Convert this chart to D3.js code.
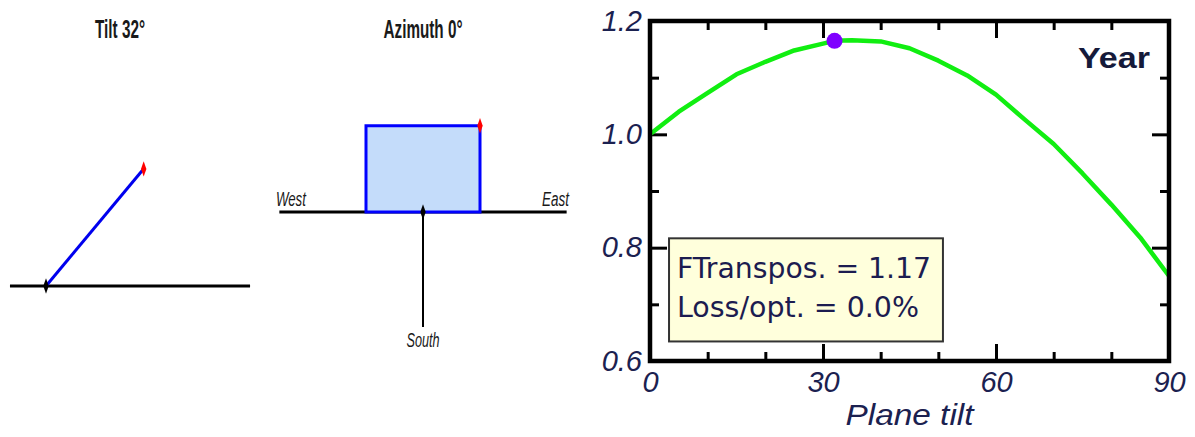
<!DOCTYPE html>
<html>
<head>
<meta charset="utf-8">
<script src="https://cdn.jsdelivr.net/npm/d3@7"></script>
<style>
  body { margin: 0; background: #fff; }
  svg { display: block; }
</style>
</head>
<body>
<svg id="chart" width="1195" height="437"></svg>
<script>
// plane tilt (deg) vs transposition factor
var tiltValues   = [0, 5, 10, 15, 20, 25, 30, 32, 35, 40, 45, 50, 55, 60, 65, 70, 75, 80, 85, 90];
var factorValues = [1.000, 1.040, 1.073, 1.106, 1.128, 1.148, 1.160, 1.165, 1.166, 1.164, 1.152, 1.130, 1.104, 1.070, 1.026, 0.983, 0.931, 0.876, 0.818, 0.750];
var optimum = [32, 1.165];

var xTickLabels = [0, 30, 60, 90];
var yTickLabels = [0.6, 0.8, 1.0, 1.2];
var xMinorTicks = [10, 20, 40, 50, 70, 80];
var yMinorTicks = [0.7, 0.9, 1.1];
var legendLines = ["FTranspos. = 1.17", "Loss/opt. = 0.0%"];

// orientation shown in the two small sketches
var planeTilt = 32;
var planeAzimuth = 0;
var compassLabels = ["West", "East", "South"];

var svg = d3.select("#chart");
var ink = "#1b2150";

//////////////////////////////////////////////
//          Tilt sketch (left)              //
//////////////////////////////////////////////
var tx = d3.scaleLinear().domain([0, 1]).range([46, 160]);
var ty = d3.scaleLinear().domain([0, 1]).range([286, 67]);

var narrow = "'Liberation Sans Narrow', 'Liberation Sans', sans-serif";

svg.append("text")
    .attr("x", 120).attr("y", 38)
    .attr("text-anchor", "middle")
    .attr("textLength", 50).attr("lengthAdjust", "spacingAndGlyphs")
    .style("font-family", narrow)
    .style("font-size", "25px")
    .style("font-weight", "bold")
    .style("fill", "#1a1a1a")
    .text("Tilt " + planeTilt + "°");

svg.append("line")
    .attr("x1", tx(-0.316)).attr("x2", tx(1.79))
    .attr("y1", ty(0)).attr("y2", ty(0))
    .attr("stroke", "#000").attr("stroke-width", 3);

var tEnd = [Math.cos(planeTilt * Math.PI / 180), Math.sin(planeTilt * Math.PI / 180)];
svg.append("line")
    .attr("x1", tx(0)).attr("y1", ty(0))
    .attr("x2", tx(tEnd[0])).attr("y2", ty(tEnd[1]))
    .attr("stroke", "#0000ee").attr("stroke-width", 3);

svg.append("path")
    .attr("d", d3.symbol(d3.symbolDiamond, 40))
    .attr("transform", "translate(" + tx(0) + "," + ty(0) + ") scale(0.8,1.3)")
    .attr("fill", "#000");
svg.append("path")
    .attr("d", d3.symbol(d3.symbolDiamond, 40))
    .attr("transform", "translate(" + (tx(tEnd[0]) + 1) + "," + (ty(tEnd[1]) - 1) + ") scale(0.8,1.3)")
    .attr("fill", "#ff0000");

//////////////////////////////////////////////
//          Azimuth sketch (middle)         //
//////////////////////////////////////////////
var ax = d3.scaleLinear().domain([-1, 1]).range([309, 537]);
var ay = d3.scaleLinear().domain([0, 1]).range([212, 327]);

svg.append("text")
    .attr("x", 423).attr("y", 38)
    .attr("text-anchor", "middle")
    .attr("textLength", 79).attr("lengthAdjust", "spacingAndGlyphs")
    .style("font-family", narrow)
    .style("font-size", "25px")
    .style("font-weight", "bold")
    .style("fill", "#1a1a1a")
    .text("Azimuth " + planeAzimuth + "°");

svg.append("line")
    .attr("x1", ax(-1.26)).attr("x2", ax(1.26))
    .attr("y1", ay(0)).attr("y2", ay(0))
    .attr("stroke", "#000").attr("stroke-width", 3);

svg.append("line")
    .attr("x1", ax(0)).attr("x2", ax(0))
    .attr("y1", ay(0)).attr("y2", ay(1))
    .attr("stroke", "#000").attr("stroke-width", 2);

// plane seen from above, rotated by azimuth around the south axis
svg.append("rect")
    .attr("x", ax(-0.5)).attr("y", ay(-0.75))
    .attr("width", ax(0.5) - ax(-0.5)).attr("height", ay(0) - ay(-0.75))
    .attr("transform", "rotate(" + (-planeAzimuth) + "," + ax(0) + "," + ay(0) + ")")
    .attr("fill", "#c4dcfa")
    .attr("stroke", "#0000ff").attr("stroke-width", 3);

svg.append("path")
    .attr("d", d3.symbol(d3.symbolDiamond, 40))
    .attr("transform", "translate(" + ax(0) + "," + ay(0) + ") scale(0.8,1.3)")
    .attr("fill", "#000");
svg.append("path")
    .attr("d", d3.symbol(d3.symbolDiamond, 40))
    .attr("transform", "translate(" + ax(0.5) + "," + ay(-0.75) + ") scale(0.8,1.3)")
    .attr("fill", "#ff0000");

svg.append("text")
    .attr("x", ax(-1.29)).attr("y", 206)
    .attr("textLength", 30).attr("lengthAdjust", "spacingAndGlyphs")
    .style("font-family", narrow).style("font-style", "italic")
    .style("font-size", "20px").style("fill", "#1a1a1a")
    .text(compassLabels[0]);
svg.append("text")
    .attr("x", ax(1.28)).attr("y", 206)
    .attr("text-anchor", "end")
    .attr("textLength", 27).attr("lengthAdjust", "spacingAndGlyphs")
    .style("font-family", narrow).style("font-style", "italic")
    .style("font-size", "20px").style("fill", "#1a1a1a")
    .text(compassLabels[1]);
svg.append("text")
    .attr("x", ax(0)).attr("y", 347)
    .attr("text-anchor", "middle")
    .attr("textLength", 33).attr("lengthAdjust", "spacingAndGlyphs")
    .style("font-family", narrow).style("font-style", "italic")
    .style("font-size", "20px").style("fill", "#1a1a1a")
    .text(compassLabels[2]);

//////////////////////////////////////////////
//          Transposition factor plot       //
//////////////////////////////////////////////
var pLeft = 650, pRight = 1169, pTop = 21, pBottom = 361;

var xScale = d3.scaleLinear().domain([0, 90]).range([pLeft, pRight]);
var yScale = d3.scaleLinear().domain([0.6, 1.2]).range([pBottom, pTop]);

var plot = svg.append("g");

// inward ticks on all four sides, majors longer
function tickSide(axisFn, scale, values, size, transform) {
    plot.append("g")
        .attr("transform", transform)
        .call(axisFn(scale).tickValues(values).tickSize(size).tickFormat(""))
        .call(function(g) {
            g.select(".domain").remove();
            g.selectAll("line").attr("stroke", "#000").attr("stroke-width", 3);
        });
}
tickSide(d3.axisBottom, xScale, [30, 60], -17, "translate(0," + pBottom + ")");
tickSide(d3.axisBottom, xScale, xMinorTicks, -9, "translate(0," + pBottom + ")");
tickSide(d3.axisTop, xScale, [30, 60], -17, "translate(0," + pTop + ")");
tickSide(d3.axisTop, xScale, xMinorTicks, -9, "translate(0," + pTop + ")");
tickSide(d3.axisLeft, yScale, [0.8, 1.0], -17, "translate(" + pLeft + ",0)");
tickSide(d3.axisLeft, yScale, yMinorTicks, -9, "translate(" + pLeft + ",0)");
tickSide(d3.axisRight, yScale, [0.8, 1.0], -17, "translate(" + pRight + ",0)");
tickSide(d3.axisRight, yScale, yMinorTicks, -9, "translate(" + pRight + ",0)");

// tick labels
var labelFont = "'Liberation Sans', Arial, sans-serif";
plot.append("g")
    .attr("transform", "translate(0," + pBottom + ")")
    .call(d3.axisBottom(xScale).tickValues(xTickLabels).tickSize(0).tickPadding(10).tickFormat(d3.format("d")))
    .call(function(g) {
        g.select(".domain").remove();
        g.selectAll("text")
            .attr("dy", "0.71em")
            .style("font-family", labelFont).style("font-style", "italic")
            .style("font-size", "29px").style("fill", ink);
    });

plot.append("g")
    .attr("transform", "translate(" + pLeft + ",0)")
    .call(d3.axisLeft(yScale).tickValues(yTickLabels).tickSize(0).tickPadding(8).tickFormat(d3.format(".1f")))
    .call(function(g) {
        g.select(".domain").remove();
        g.selectAll("text")
            .style("font-family", labelFont).style("font-style", "italic")
            .style("font-size", "29px").style("fill", ink);
    });

plot.append("text")
    .attr("x", xScale(45)).attr("y", 425)
    .attr("text-anchor", "middle")
    .attr("textLength", 128).attr("lengthAdjust", "spacingAndGlyphs")
    .style("font-family", labelFont).style("font-style", "italic")
    .style("font-size", "30px").style("fill", ink)
    .text("Plane tilt");

// curve
var line = d3.line()
    .x(function(d, i) { return xScale(tiltValues[i]); })
    .y(function(d) { return yScale(d); });

plot.append("path")
    .datum(factorValues)
    .attr("d", line)
    .attr("fill", "none")
    .attr("stroke", "#11ee11")
    .attr("stroke-width", 4.5)
    .attr("stroke-linejoin", "round");

plot.append("circle")
    .attr("cx", xScale(optimum[0])).attr("cy", yScale(optimum[1]))
    .attr("r", 8)
    .attr("fill", "#7f00ff");

// frame
plot.append("rect")
    .attr("x", pLeft).attr("y", pTop)
    .attr("width", pRight - pLeft).attr("height", pBottom - pTop)
    .attr("fill", "none")
    .attr("stroke", "#000").attr("stroke-width", 4.5);

plot.append("text")
    .attr("x", 1150).attr("y", 68)
    .attr("text-anchor", "end")
    .attr("textLength", 72).attr("lengthAdjust", "spacingAndGlyphs")
    .style("font-family", labelFont).style("font-weight", "bold")
    .style("font-size", "30px").style("fill", "#151a3a")
    .text("Year");

// result box
var box = plot.append("g");
box.append("rect")
    .attr("x", xScale(3.3)).attr("y", yScale(0.8165))
    .attr("width", xScale(50.8) - xScale(3.3))
    .attr("height", yScale(0.6345) - yScale(0.8165))
    .attr("fill", "#ffffdc")
    .attr("stroke", "#333").attr("stroke-width", 2);

box.selectAll("text.leg")
    .data(legendLines)
    .enter()
    .append("text")
    .attr("class", "leg")
    .attr("x", 677)
    .attr("y", function(d, i) { return 278 + i * 39; })
    .attr("textLength", function(d, i) { return i == 0 ? 254 : 242; })
    .attr("lengthAdjust", "spacingAndGlyphs")
    .style("font-family", "'DejaVu Sans', Verdana, sans-serif")
    .style("font-size", "28px")
    .style("fill", "#1c1c50")
    .text(function(d) { return d; });
</script>
</body>
</html>
